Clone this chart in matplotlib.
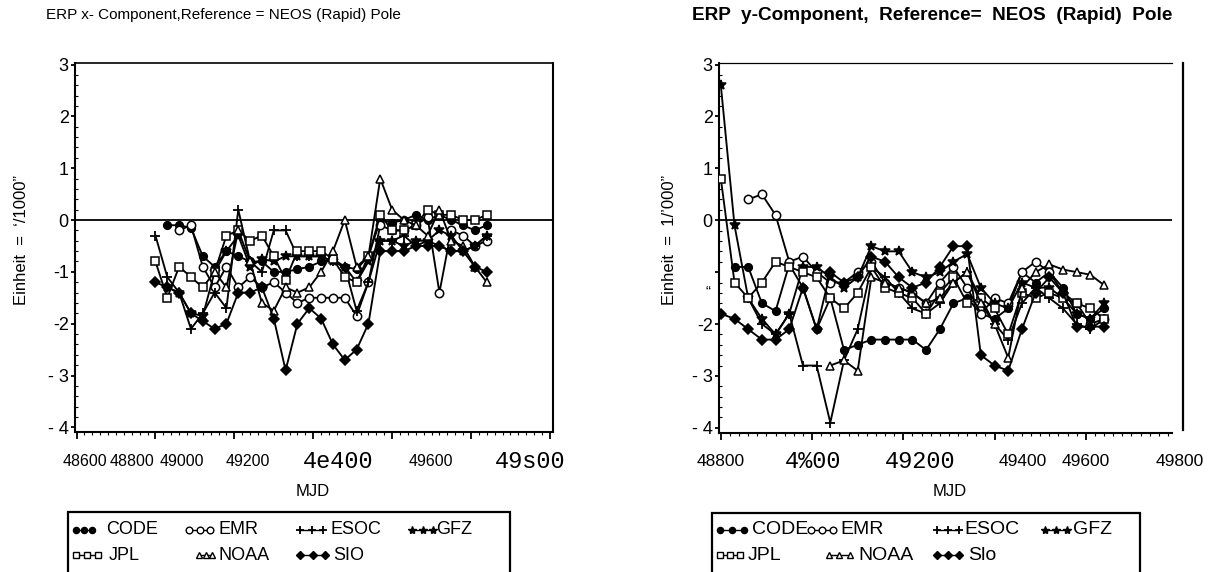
import numpy as np
import matplotlib
matplotlib.use("Agg")
import matplotlib.pyplot as plt
from matplotlib.ticker import AutoMinorLocator, FixedLocator, NullFormatter, FixedFormatter
from matplotlib.lines import Line2D
from matplotlib import font_manager as fm

nan = np.nan

# ---------------- data ----------------
mjd = [48800, 48830, 48860, 48890, 48920, 48950, 48980, 49010, 49040, 49070,
       49100, 49130, 49160, 49190, 49220, 49250, 49280, 49310, 49340, 49370,
       49400, 49430, 49460, 49490, 49520, 49550, 49580, 49610, 49640]

centers = ["CODE", "EMR", "ESOC", "GFZ", "JPL", "NOAA", "SIO"]

# x-component
x_CODE = [nan, -0.1, -0.1, -0.15, -0.7, -0.9, -0.6, -0.7, -0.8, -0.8, -1.0, -1.0, -0.95, -0.9, -0.8,
          -0.75, -0.9, -0.95, -0.7, 0.0, -0.05, 0.0, 0.1, 0.0, 0.1, 0.0, -0.1, -0.2, -0.1]
x_EMR = [nan, nan, -0.2, -0.1, -0.9, -1.3, -0.9, -1.3, -1.1, -1.3, -1.2, -1.4, -1.6, -1.5, -1.5,
         -1.5, -1.5, -1.85, -1.2, -0.1, -0.2, -0.2, -0.1, 0.05, -1.4, -0.2, -0.3, -0.5, -0.4]
x_ESOC = [-0.3, -1.1, -1.4, -2.1, -1.8, -1.4, -1.7, 0.2, -0.8, -1.0, -0.2, -0.2, -0.7, -0.7, -0.7,
          -0.8, -0.9, -1.75, -1.2, -0.4, -0.4, -0.3, -0.5, -0.4, -0.5, -0.6, -0.6, -0.5, -0.3]
x_GFZ = [nan, -1.3, -1.4, -1.8, -1.85, -1.0, -0.6, -0.3, -0.9, -0.75, -0.8, -0.7, -0.7, -0.7, -0.7,
         -0.8, -0.9, -1.2, -0.8, -0.4, -0.4, -0.5, -0.4, -0.4, -0.2, -0.3, -0.6, -0.5, -0.3]
x_JPL = [-0.8, -1.5, -0.9, -1.1, -1.3, -1.0, -0.3, -0.2, -0.4, -0.3, -0.7, -1.15, -0.6, -0.6, -0.6,
         -0.75, -1.1, -1.2, -0.7, 0.1, -0.2, -0.2, -0.1, 0.2, 0.1, 0.1, 0.0, 0.0, 0.1]
x_NOAA = [nan, nan, nan, nan, nan, -1.0, -1.3, -0.2, -0.8, -1.6, -1.75, -1.3, -1.4, -1.3, -1.0,
          -0.6, 0.0, -0.9, -0.7, 0.8, 0.2, 0.0, -0.1, -0.3, 0.2, -0.4, -0.5, -0.9, -1.2]
x_SIO = [-1.2, -1.3, -1.4, -1.8, -1.95, -2.1, -2.0, -1.4, -1.4, -1.3, -1.9, -2.9, -2.0, -1.7, -1.9,
         -2.4, -2.7, -2.5, -2.0, -0.6, -0.6, -0.6, -0.5, -0.5, -0.5, -0.6, -0.6, -0.9, -1.0]

# y-component
y_CODE = [nan, -0.9, -0.9, -1.6, -1.75, -0.85, -1.3, -2.1, -1.5, -2.5, -2.4, -2.3, -2.3, -2.3, -2.3,
          -2.5, -2.1, -1.6, -1.5, -1.8, -1.9, -1.7, -1.0, -1.2, -1.0, -1.3, -1.8, -1.9, -1.7]
y_EMR = [nan, nan, 0.4, 0.5, 0.1, -0.8, -0.7, -1.0, -1.2, -1.2, -1.0, -0.8, -1.2, -1.3, -1.4,
         -1.6, -1.2, -0.9, -1.3, -1.8, -1.5, -1.6, -1.0, -0.8, -1.0, -1.4, -1.6, -2.0, -1.9]
y_ESOC = [nan, nan, -1.5, -2.0, -2.2, -1.8, -2.8, -2.8, -3.9, -2.7, -2.1, -0.9, -1.1, -1.4, -1.7,
          -1.8, -1.6, -1.2, -1.0, -1.5, -2.0, -2.3, -1.6, -1.3, -1.5, -1.7, -2.0, -2.1, -1.9]
y_GFZ = [2.6, -0.1, -1.5, -1.9, -2.2, -1.8, -0.9, -0.9, -1.1, -1.3, -1.1, -0.5, -0.6, -0.6, -1.0,
         -1.1, -1.0, -0.8, -0.65, -1.3, -1.6, -1.7, -1.2, -1.3, -1.3, -1.5, -1.8, -1.9, -1.6]
y_JPL = [0.8, -1.2, -1.5, -1.2, -0.8, -0.9, -1.0, -1.1, -1.5, -1.7, -1.4, -0.9, -1.3, -1.4, -1.5,
         -1.8, -1.4, -1.1, -1.6, -1.5, -1.7, -2.2, -1.4, -1.5, -1.4, -1.5, -1.6, -1.7, -1.9]
y_NOAA = [nan, nan, nan, nan, nan, nan, nan, nan, -2.8, -2.7, -2.9, -1.1, -1.2, -1.3, -1.4,
          -1.6, -1.5, -1.2, -1.0, -1.6, -2.0, -2.65, -1.3, -1.0, -0.85, -0.95, -1.0, -1.05, -1.25]
y_SIO = [-1.8, -1.9, -2.1, -2.3, -2.3, -2.1, -1.3, -2.1, -1.0, -1.2, -1.1, -0.7, -0.8, -1.1, -1.3,
         -1.2, -0.9, -0.5, -0.5, -2.6, -2.8, -2.9, -2.1, -1.4, -1.1, -1.4, -2.05, -2.05, -2.05]

x_series = [x_CODE, x_EMR, x_ESOC, x_GFZ, x_JPL, x_NOAA, x_SIO]
y_series = [y_CODE, y_EMR, y_ESOC, y_GFZ, y_JPL, y_NOAA, y_SIO]

y_ticks = [3, 2, 1, 0, -1, -2, -3, -4]
left_ytick_labels = ["3", "2", "1", "0", "-1", "-2", "- 3", "- 4"]
right_ytick_labels = ["3", "2", "1", "0", "", "-2", "- 3", "- 4"]

left_x_ticks = [48600, 48800, 49000, 49200, 49400, 49600, 49800]
right_x_ticks = [48800, 49000, 49200, 49400, 49600, 49800]
# tick label text as printed, with the x (pixel) where each one sits
left_xlabels = [("48600", 85, "s"), ("48800", 132, "s"), ("49000", 182, "s"),
                ("49200", 248, "s"), ("4e400", 338, "m"), ("49600", 431, "s"),
                ("49s00", 530, "m")]
right_xlabels = [("48800", 721, "s"), ("4%00", 813, "m"), ("49200", 920, "m"),
                 ("49400", 1023, "s"), ("49600", 1086, "s"), ("49800", 1180, "s")]

left_legend_labels = ["CODE", "EMR", "ESOC", "GFZ", "JPL", "NOAA", "SIO"]
right_legend_labels = ["CODE", "EMR", "ESOC", "GFZ", "JPL", "NOAA", "Slo"]

# ---------------- styling ----------------
plt.rcParams["font.family"] = ["Liberation Sans", "DejaVu Sans"]
try:
    fm.findfont(fm.FontProperties(family="Liberation Sans Narrow"), fallback_to_default=False)
    NARROW = "Liberation Sans Narrow"
except Exception:
    NARROW = "Liberation Sans"
MONO = "Liberation Mono"

W, H = 1222, 572
def fx(px):
    return px / W
def fy(py):
    return 1 - py / H

styles = {
    "CODE": dict(marker="o", mfc="black", ms=5.5),
    "EMR": dict(marker="o", mfc="white", ms=6.0),
    "ESOC": dict(marker="+", mfc="black", ms=7.5, mew=1.3),
    "GFZ": dict(marker="*", mfc="black", ms=7.5),
    "JPL": dict(marker="s", mfc="white", ms=5.5),
    "NOAA": dict(marker="^", mfc="white", ms=6.0),
    "SIO": dict(marker="D", mfc="black", ms=5.0),
}

fig = plt.figure(figsize=(W / 100, H / 100), dpi=100)
fig.patch.set_facecolor("white")

ax1 = fig.add_axes([fx(75), fy(432), (553 - 75) / W, (432 - 63) / H])
ax2 = fig.add_axes([fx(719), fy(433), (1172 - 719) / W, (433 - 63) / H])


def draw(ax, series):
    for name, vals in zip(centers, series):
        st = dict(styles[name])
        mew = st.pop("mew", 1.1)
        ax.plot(mjd, vals, color="black", lw=1.35, mec="black", mew=mew, zorder=3, **st)
    ax.axhline(0, color="black", lw=1.3, zorder=2)


draw(ax1, x_series)
draw(ax2, y_series)

ax1.set_xlim(48596, 49808)
ax1.set_ylim(-4.09, 3.03)
ax2.set_xlim(48796, 49789)
ax2.set_ylim(-4.1, 3.03)

for ax, xt, ylabs in [(ax1, left_x_ticks, left_ytick_labels), (ax2, right_x_ticks, right_ytick_labels)]:
    ax.xaxis.set_major_locator(FixedLocator(xt))
    ax.xaxis.set_major_formatter(NullFormatter())
    ax.xaxis.set_minor_locator(AutoMinorLocator(10))
    ax.yaxis.set_major_locator(FixedLocator(y_ticks))
    ax.yaxis.set_major_formatter(FixedFormatter(ylabs))
    ax.yaxis.set_minor_locator(AutoMinorLocator(5))
    ax.tick_params(axis="x", which="major", direction="out", length=5, width=1.3)
    ax.tick_params(axis="x", which="minor", direction="out", length=2, width=0.8)
    ax.tick_params(axis="y", which="major", direction="out", length=3, width=1.3,
                   pad=1.5, labelsize=13)
    ax.tick_params(axis="y", which="minor", direction="in", length=2, width=0.8)
    for s in ax.spines.values():
        s.set_linewidth(1.5)

ax2.spines["right"].set_visible(False)
ax2.spines["top"].set_linewidth(0.9)
ax1.spines["top"].set_linewidth(1.2)

# stray vertical rule at the right of the second panel
fig.add_artist(Line2D([fx(1183), fx(1183)], [fy(63), fy(430)], transform=fig.transFigure,
                      color="black", lw=1.6))

# x tick labels as printed
for lab, px, kind in left_xlabels + right_xlabels:
    if kind == "m":
        fig.text(fx(px), fy(462), lab, ha="center", va="center", family=MONO, fontsize=17)
    else:
        fs = 11.5 if px < 600 else 12.5
        fig.text(fx(px), fy(462), lab, ha="center", va="center", family=NARROW, fontsize=fs)

# the odd mark on the right y axis
fig.text(fx(708), fy(292), "\u201c", ha="center", va="center", fontsize=11)

# axis labels
fig.text(fx(313), fy(492), "MJD", ha="center", va="center", fontsize=12, family=NARROW)
fig.text(fx(950), fy(492), "MJD", ha="center", va="center", fontsize=12, family=NARROW)
fig.text(fx(22), fy(240), "Einheit  =  \u2018/1000\u201d", rotation=90, ha="center", va="center",
         fontsize=12)
fig.text(fx(670), fy(240), "Einheit  =  1/\u2019000\u201d", rotation=90, ha="center", va="center",
         fontsize=12)

# titles
fig.text(fx(46), fy(15), "ERP x- Component,Reference = NEOS (Rapid) Pole", ha="left",
         va="center", fontsize=11)
fig.text(fx(692), fy(16), "ERP  y-Component,  Reference=  NEOS  (Rapid)  Pole", ha="left",
         va="center", fontsize=13.7, fontweight="bold")


# ---------------- legends (drawn as boxes of entries) ----------------
def legend(box, entries, labels, fsize):
    x0, y0, x1 = box
    rect = plt.Rectangle((fx(x0), fy(H + 5)), (x1 - x0) / W, (H + 5 - y0) / H,
                         transform=fig.transFigure, fill=False, ec="black", lw=1.6)
    fig.add_artist(rect)
    for (hx0, hx1, ty, tx), name, lab in zip(entries, centers, labels):
        st = dict(styles[name])
        mew = st.pop("mew", 1.0)
        ms = st.pop("ms") * 0.8
        xs = [fx(hx0), fx((hx0 + hx1) / 2), fx(hx1)]
        fig.add_artist(Line2D(xs, [fy(ty)] * 3, transform=fig.transFigure, color="black",
                              lw=1.0, mec="black", mew=mew, ms=ms, **st))
        fig.text(fx(tx), fy(ty), lab, ha="left", va="center", fontsize=fsize, family=NARROW)


left_entries = [(76, 92, 530, 106), (189, 210, 530, 219), (300, 323, 530, 330), (412, 433, 530, 436),
                (76, 98, 555, 109), (199, 212, 555, 219), (300, 325, 555, 333)]
right_entries = [(720, 744, 530, 752), (811, 833, 530, 840), (937, 959, 530, 964), (1045, 1067, 530, 1073),
                 (720, 740, 555, 748), (829, 850, 555, 858), (937, 959, 555, 968)]
legend((68, 512, 510), left_entries, left_legend_labels, 13)
legend((712, 513, 1140), right_entries, right_legend_labels, 14)

fig.savefig("out.png", dpi=100, facecolor="white")
